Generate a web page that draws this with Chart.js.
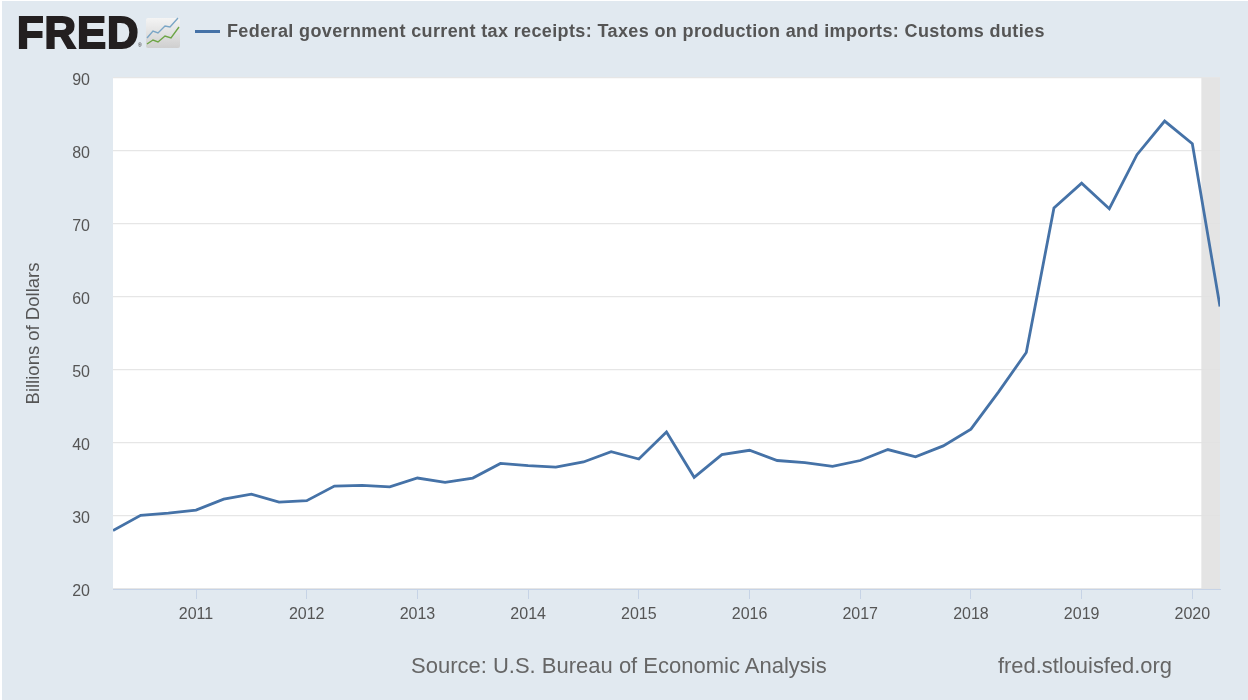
<!DOCTYPE html>
<html>
<head>
<meta charset="utf-8">
<script src="https://cdn.jsdelivr.net/npm/chart.js@4"></script>
<style>
html,body{margin:0;padding:0;background:#fff;width:1248px;height:700px;overflow:hidden}
#bg{position:absolute;left:2px;top:1px;width:1246px;height:699px;background:#e1e9f0}
canvas{position:absolute;left:0;top:0}
.t{position:absolute;font-family:"Liberation Sans",Arial,sans-serif;white-space:nowrap}
#logo{left:17px;top:8px;font-size:43.5px;font-weight:700;color:#231f20;-webkit-text-stroke:2px #231f20;line-height:50px;letter-spacing:1px}
#reg{left:138px;top:42px;font-size:5px;color:#231f20}
#swatch{position:absolute;left:195px;top:30px;width:25px;height:2.5px;background:#4572a7}
#legend{left:227px;top:21px;font-size:18px;font-weight:700;color:#555;line-height:20px;letter-spacing:.375px}
#source{left:411px;top:654px;font-size:22px;color:#666;line-height:24px}
#site{left:998px;top:654px;font-size:21.9px;color:#666;line-height:24px}
#icon{position:absolute;left:146px;top:17px}
</style>
</head>
<body>
<div id="bg"></div>
<canvas id="c" width="1248" height="700"></canvas>
<div class="t" id="logo">FRED</div>
<div class="t" id="reg">®</div>
<svg id="icon" width="34" height="32" viewBox="0 0 34 32">
  <defs><linearGradient id="g" x1="0" y1="0" x2="0" y2="1"><stop offset="0" stop-color="#f4f4f4"/><stop offset="1" stop-color="#cfcfcf"/></linearGradient></defs>
  <rect x="0" y="1" width="34" height="30" rx="2" fill="url(#g)"/>
  <polyline points="1,21 7,14 12,16 19,9 24,10 32,1" fill="none" stroke="#7ba6c6" stroke-width="1.4"/>
  <polyline points="1,27 7,23 12,25 19,19 25,21 33,10" fill="none" stroke="#6da545" stroke-width="1.4"/>
</svg>
<div id="swatch"></div>
<div class="t" id="legend">Federal government current tax receipts: Taxes on production and imports: Customs duties</div>
<div class="t" id="source">Source: U.S. Bureau of Economic Analysis</div>
<div class="t" id="site">fred.stlouisfed.org</div>
<script>
const quarters = [2010.25,2010.5,2010.75,2011,2011.25,2011.5,2011.75,2012,2012.25,2012.5,2012.75,2013,2013.25,2013.5,2013.75,2014,2014.25,2014.5,2014.75,2015,2015.25,2015.5,2015.75,2016,2016.25,2016.5,2016.75,2017,2017.25,2017.5,2017.75,2018,2018.25,2018.5,2018.75,2019,2019.25,2019.5,2019.75,2020,2020.25];
const customsDuties = [28.0,30.1,30.4,30.8,32.3,33.0,31.9,32.1,34.1,34.2,34.0,35.2,34.6,35.2,37.2,36.9,36.7,37.4,38.8,37.8,41.5,35.3,38.4,39.0,37.6,37.3,36.8,37.6,39.1,38.1,39.6,41.9,47.0,52.4,72.2,75.6,72.1,79.5,84.1,81.0,58.7];
const yearTicks = [2011,2012,2013,2014,2015,2016,2017,2018,2019,2020];
const recessionX = [2020.08,2020.25];
const recessionY = [90,90];
const FONT = '"Liberation Sans",Arial,sans-serif';

const plotBg = {
  id:'plotBg',
  beforeDraw(chart){
    const a = chart.chartArea, c = chart.ctx;
    c.save(); c.fillStyle='#ffffff'; c.fillRect(a.left,a.top,a.right-a.left,a.bottom-a.top); c.restore();
  }
};

new Chart(document.getElementById('c'),{
  type:'line',
  plugins:[plotBg],
  data:{datasets:[
    {label:'Federal government current tax receipts: Taxes on production and imports: Customs duties',
     data:quarters.map((x,i)=>({x,y:customsDuties[i]})),
     borderColor:'#4572a7',borderWidth:2.8,pointRadius:0,tension:0,fill:false,order:1},
    {label:'Recession',
     data:recessionX.map((x,i)=>({x,y:recessionY[i]})),
     borderWidth:0,borderColor:'transparent',backgroundColor:'rgba(226,226,226,0.92)',pointRadius:0,fill:'start',order:2}
  ]},
  options:{
    responsive:false,animation:false,
    layout:{padding:{left:0,right:28,top:78,bottom:0}},
    plugins:{legend:{display:false},tooltip:{enabled:false},title:{display:false}},
    scales:{
      x:{type:'linear',min:2010.25,max:2020.25,
        afterBuildTicks(s){s.ticks=yearTicks.map(v=>({value:v}));},
        afterFit(s){s.height=111;s.paddingLeft=0;s.paddingRight=0;},
        grid:{drawOnChartArea:false,drawTicks:true,tickLength:10,tickColor:'#c6d3e6',tickWidth:1},
        border:{display:true,color:'#c6d3e6',width:1},
        ticks:{autoSkip:false,maxRotation:0,minRotation:0,padding:6,color:'#555',font:{family:FONT,size:16},callback:v=>String(v)}
      },
      y:{type:'linear',min:20,max:90,
        afterFit(s){s.width=113;s.paddingTop=0;s.paddingBottom=0;},
        grid:{color:'#e6e6e6',lineWidth:1.3,drawTicks:false},
        border:{display:false},
        title:{display:true,text:'Billions of Dollars',color:'#555',font:{family:FONT,size:18.5},padding:{top:23,bottom:0}},
        ticks:{stepSize:10,padding:23,color:'#555',font:{family:FONT,size:16,lineHeight:0.3},callback:v=>['',String(v)]}
      }
    }
  }
});
</script>
</body>
</html>
